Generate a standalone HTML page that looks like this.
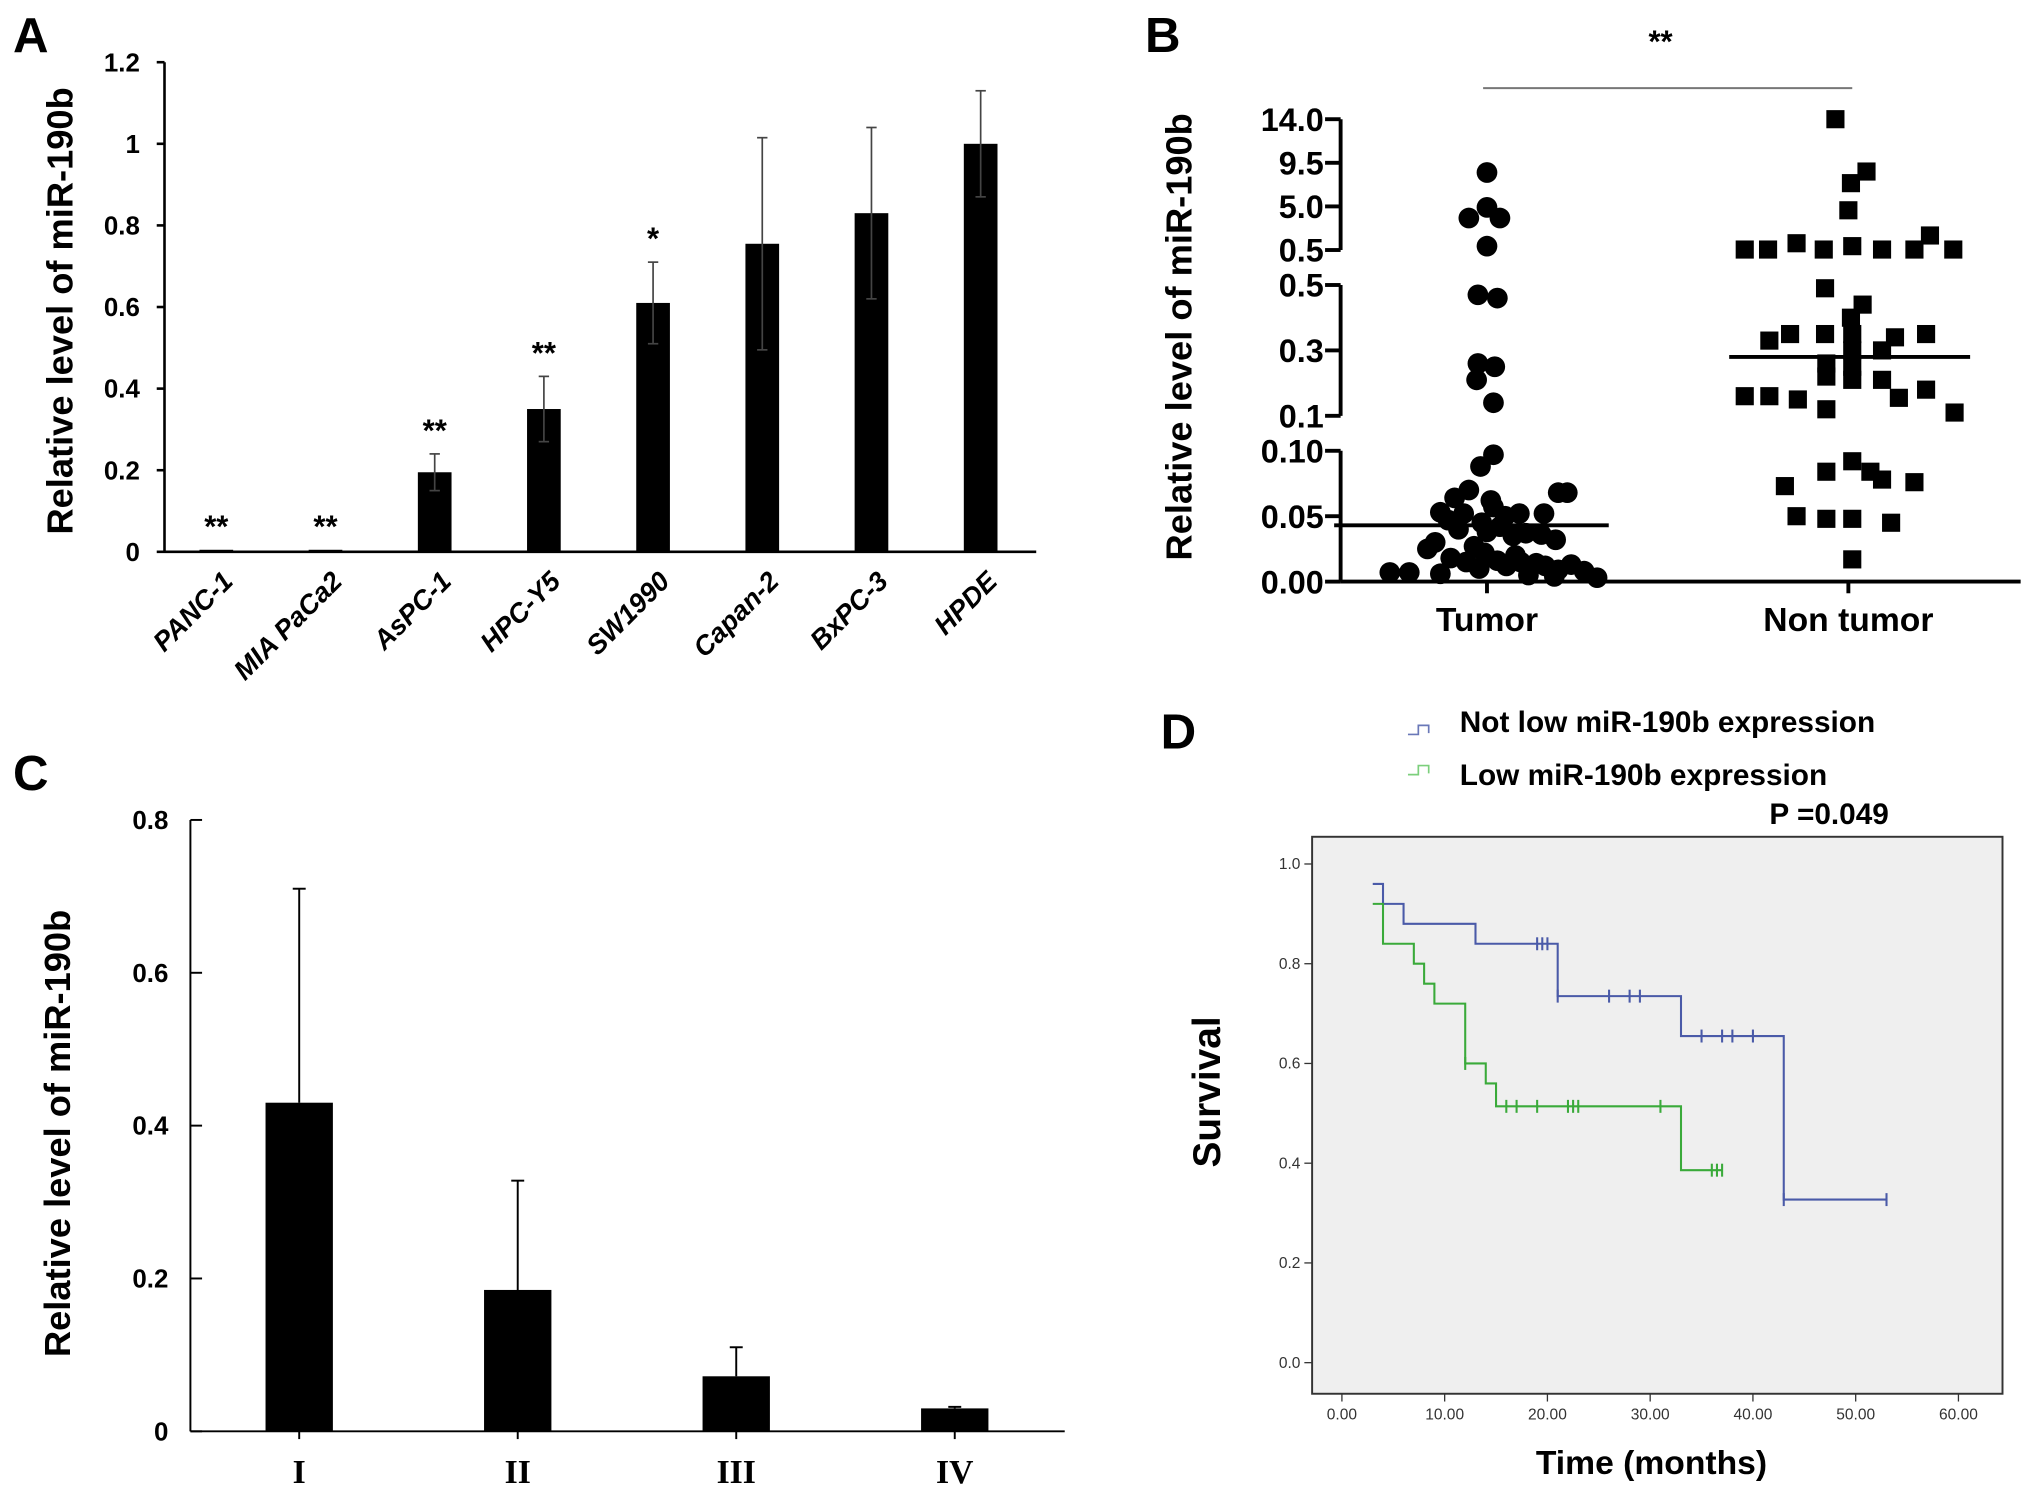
<!DOCTYPE html>
<html><head><meta charset="utf-8"><style>
html,body{margin:0;padding:0;background:#fff}
svg{display:block}
text{font-family:"Liberation Sans",Arial,sans-serif}
</style></head><body>
<svg id="fig" width="2031" height="1500" viewBox="0 0 1568 1158" xmlns="http://www.w3.org/2000/svg">
<g id="pA"></g>
<g id="pB"></g>
<g id="pC"></g>
<g id="pD"></g>
</svg>
<script>
// ---- Panel A data ----
const aCats=["PANC-1","MIA PaCa2","AsPC-1","HPC-Y5","SW1990","Capan-2","BxPC-3","HPDE"];
const aVals=[0.005,0.005,0.195,0.35,0.61,0.755,0.83,1.0];
const aErr=[0,0,0.045,0.08,0.1,0.26,0.21,0.13];
const aStars=["**","**","**","**","*","","",""];
const aTicks=[0,0.2,0.4,0.6,0.8,1,1.2];
// ---- Panel B data ----
const bGroups=["Tumor","Non tumor"];
const bTumorVals=[8.5,4.9,3.8,3.8,0.9,0.47,0.46,0.26,0.25,0.21,0.14,0.097,0.088,0.07,0.068,0.068,0.064,0.062,0.057,0.053,0.052,0.052,0.052,0.05,0.047,0.045,0.042,0.04,0.038,0.037,0.036,0.035,0.032,0.03,0.027,0.025,0.022,0.02,0.018,0.016,0.015,0.015,0.014,0.013,0.012,0.012,0.01,0.009,0.008,0.007,0.007,0.006,0.005,0.004,0.003];
const bTumorJit=[0,0,-14,10,0,-7,8,-7,6,-8,5,5,-5,-14,55,62,-25,3,5,-36,-18,25,44,14,-30,-4,10,-22,0,30,42,20,53,-40,-10,-46,-2,22,-28,8,-16,26,38,65,45,15,-6,55,75,-60,-75,-36,32,52,85];
const bNonVals=[14,8.6,7.4,4.6,0.55,0.55,1.2,0.55,0.9,0.55,0.55,2.0,0.55,0.49,0.44,0.40,0.35,0.35,0.35,0.33,0.34,0.35,0.30,0.30,0.26,0.22,0.25,0.16,0.16,0.15,0.12,0.21,0.21,0.155,0.18,0.11,0.092,0.084,0.084,0.078,0.073,0.076,0.05,0.048,0.048,0.045,0.017];
const bNonJit=[-10,14,2,0,-80,-62,-40,-19,3,26,51,63,81,-18,11,2,-45,-18,3,-61,36,60,3,26,-17,-17,3,-80,-61,-39,-17,3,26,39,60,82,3,-17,17,26,-49,51,-40,-17,3,33,3];
const bMeans=[0.043,0.28];
const bTickVals=[0,0.05,0.10,0.1,0.3,0.5,0.5,5.0,9.5,14.0];
const bTickSeg=[0,0,0,1,1,1,2,2,2,2];
const bTickLabels=["0.00","0.05","0.10","0.1","0.3","0.5","0.5","5.0","9.5","14.0"];
// ---- Panel C data ----
const cCats=["I","II","III","IV"];
const cVals=[0.43,0.185,0.072,0.03];
const cErr=[0.28,0.143,0.038,0.002];
const cTicks=[0,0.2,0.4,0.6,0.8];
// ---- Panel D data ----
const dBlueT=[3,4,6,13,21,33,43,53];
const dBlueS=[0.96,0.92,0.88,0.84,0.735,0.655,0.327,0.327];
const dBlueCens=[19,19.5,20,21,26,28,29,35,37,38,40,43,53];
const dGreenT=[3,4,7,8,9,12,14,15,33,37];
const dGreenS=[0.92,0.84,0.80,0.76,0.72,0.60,0.56,0.514,0.386,0.386];
const dGreenCens=[12,16,17,19,22,22.5,23,31,36,36.5,37];
const dXTicks=[0,10,20,30,40,50,60];
const dYTicks=[0,0.2,0.4,0.6,0.8,1.0];

const NS="http://www.w3.org/2000/svg";
function mk(p,tag,at,txt){const e=document.createElementNS(NS,tag);for(const k in at)e.setAttribute(k,at[k]);if(txt!==undefined)e.textContent=txt;p.appendChild(e);return e;}

// ===== Panel A =====
(function(){
const g=document.getElementById('pA');
const y=v=>426-v/1.2*378, x=i=>167+i*84.3;
let t=mk(g,'text',{x:10,y:40,'font-size':38,'font-weight':'bold'},'A');

let ax=mk(g,'line',{x1:127,y1:48,x2:127,y2:426,stroke:'#000','stroke-width':2});

ax=mk(g,'line',{x1:127,y1:426,x2:800,y2:426,stroke:'#000','stroke-width':2});

aTicks.forEach(v=>{mk(g,'line',{x1:121,x2:127,y1:y(v),y2:y(v),stroke:'#000','stroke-width':2});
 const l=mk(g,'text',{x:108,y:y(v)+7,'font-size':20,'font-weight':'bold','text-anchor':'end'},String(v));
 });
aVals.forEach((v,i)=>{
 const b=mk(g,'rect',{x:x(i)-13,y:y(v),width:26,height:426-y(v),fill:'#000'});
 
 if(aErr[i]>0){mk(g,'line',{x1:x(i),x2:x(i),y1:y(v+aErr[i]),y2:y(v-aErr[i]),stroke:'#444','stroke-width':1.3});
  mk(g,'line',{x1:x(i)-4,x2:x(i)+4,y1:y(v+aErr[i]),y2:y(v+aErr[i]),stroke:'#444','stroke-width':1.3});
  mk(g,'line',{x1:x(i)-4,x2:x(i)+4,y1:y(v-aErr[i]),y2:y(v-aErr[i]),stroke:'#444','stroke-width':1.3});}
 if(aStars[i]){const s=mk(g,'text',{x:x(i),y:(aErr[i]?y(v+aErr[i]):y(v))-10,'font-size':24,'font-weight':'bold','text-anchor':'middle'},aStars[i]);
  }
 const cl=mk(g,'text',{x:0,y:0,'font-size':21,'font-weight':'bold','font-style':'italic','text-anchor':'end',transform:`translate(${x(i)+14},${450}) rotate(-45)`},aCats[i]);
 
});
const yt=mk(g,'text',{x:0,y:0,'font-size':28,'font-weight':'bold','text-anchor':'middle',transform:'translate(56,240) rotate(-90)'},'Relative level of miR-190b');

})();

// ===== Panel B =====
(function(){
const g=document.getElementById('pB');
function ys(v,seg){ if(seg===2) return 193-(v-0.5)/13.5*101; if(seg===1) return 321-(v-0.1)/0.4*101; return 449-v/0.1*101;}
function y(v){ return ys(v, v<=0.1?0:(v<=0.5?1:2)); }
let t=mk(g,'text',{x:884,y:40,'font-size':38,'font-weight':'bold'},'B');

[[92,193],[220,321],[348,449]].forEach(s=>{const a=mk(g,'line',{x1:1035,x2:1035,y1:s[0],y2:s[1],stroke:'#000','stroke-width':3});
 });
const xa=mk(g,'line',{x1:1035,x2:1560,y1:449,y2:449,stroke:'#000','stroke-width':3});

bTickVals.forEach((v,i)=>{const yy=ys(v,bTickSeg[i]);
 mk(g,'line',{x1:1023,x2:1035,y1:yy,y2:yy,stroke:'#000','stroke-width':3});
 const l=mk(g,'text',{x:1022,y:yy+9,'font-size':25,'font-weight':'bold','text-anchor':'end'},bTickLabels[i]);
 });
const gx=[1148,1427];
bGroups.forEach((n,i)=>{mk(g,'line',{x1:gx[i],x2:gx[i],y1:449,y2:458,stroke:'#000','stroke-width':3});
 const l=mk(g,'text',{x:gx[i],y:487,'font-size':26,'font-weight':'bold','text-anchor':'middle'},n);
 });
bTumorVals.forEach((v,i)=>{const c=mk(g,'circle',{cx:gx[0]+bTumorJit[i],cy:y(v),r:8,fill:'#000'});
 });
bNonVals.forEach((v,i)=>{const c=mk(g,'rect',{x:gx[1]+bNonJit[i]-7,y:y(v)-7,width:14,height:14,fill:'#000'});
 });
const mx=[[1030,1242],[1335,1521]];
bMeans.forEach((v,i)=>{const m=mk(g,'line',{x1:mx[i][0],x2:mx[i][1],y1:y(v),y2:y(v),stroke:'#000','stroke-width':3});
 });
const sl=mk(g,'line',{x1:1145,x2:1430,y1:68,y2:68,stroke:'#777','stroke-width':1.5});

const st=mk(g,'text',{x:1282,y:40,'font-size':24,'font-weight':'bold','text-anchor':'middle'},'**');

const yt=mk(g,'text',{x:0,y:0,'font-size':28,'font-weight':'bold','text-anchor':'middle',transform:'translate(920,260) rotate(-90)'},'Relative level of miR-190b');

})();

// ===== Panel C =====
(function(){
const g=document.getElementById('pC');
const y=v=>1105-v/0.8*472, x=i=>231+i*168.7;
let t=mk(g,'text',{x:10,y:610,'font-size':38,'font-weight':'bold'},'C');

let a=mk(g,'line',{x1:147,x2:147,y1:633,y2:1105,stroke:'#000','stroke-width':1.5});

a=mk(g,'line',{x1:147,x2:822,y1:1105,y2:1105,stroke:'#000','stroke-width':1.5});

cTicks.forEach(v=>{mk(g,'line',{x1:147,x2:156,y1:y(v),y2:y(v),stroke:'#000','stroke-width':1.5});
 const l=mk(g,'text',{x:130,y:y(v)+7,'font-size':20,'font-weight':'bold','text-anchor':'end'},String(v));
 });
cVals.forEach((v,i)=>{
 const e=v+cErr[i];
 mk(g,'line',{x1:x(i),x2:x(i),y1:y(e),y2:y(v),stroke:'#000','stroke-width':1.5});
 mk(g,'line',{x1:x(i)-5,x2:x(i)+5,y1:y(e),y2:y(e),stroke:'#000','stroke-width':1.5});
 const b=mk(g,'rect',{x:x(i)-26,y:y(v),width:52,height:1105-y(v),fill:'#000'});
 
 mk(g,'line',{x1:x(i),x2:x(i),y1:1105,y2:1111,stroke:'#000','stroke-width':1.5});
 const l=mk(g,'text',{x:x(i),y:1145,'font-size':26,'font-weight':'bold','text-anchor':'middle',style:'font-family:"Liberation Serif",serif'},cCats[i]);
 });
const yt=mk(g,'text',{x:0,y:0,'font-size':28,'font-weight':'bold','text-anchor':'middle',transform:'translate(54,875) rotate(-90)'},'Relative level of miR-190b');

})();

// ===== Panel D =====
(function(){
const g=document.getElementById('pD');
const x=m=>1036+m*7.933, y=s=>1052-s*385;
let t=mk(g,'text',{x:896,y:578,'font-size':38,'font-weight':'bold'},'D');

const box=mk(g,'rect',{x:1013,y:646,width:533,height:430,fill:'#efefef',stroke:'#333','stroke-width':1.5});

dYTicks.forEach(v=>{mk(g,'line',{x1:1007,x2:1013,y1:y(v),y2:y(v),stroke:'#333'});
 const l=mk(g,'text',{x:1004,y:y(v)+4,'font-size':12,fill:'#333','text-anchor':'end'},v.toFixed(1));
 });
dXTicks.forEach(v=>{mk(g,'line',{x1:x(v),x2:x(v),y1:1076,y2:1082,stroke:'#333'});
 const l=mk(g,'text',{x:x(v),y:1096,'font-size':12,fill:'#333','text-anchor':'middle'},v.toFixed(2));
 });
function km(T,S,C,col,name){
 let d=`M${x(T[0])},${y(S[0])}`;
 for(let i=1;i<T.length;i++){d+=` H${x(T[i])} V${y(S[i])}`;}
 const p=mk(g,'path',{d:d,fill:'none',stroke:col,'stroke-width':1.6});
 
 C.forEach(c=>{let s=S[0];for(let i=0;i<T.length;i++){if(T[i]<=c)s=S[i];}
  const m=mk(g,'line',{x1:x(c),x2:x(c),y1:y(s)-5,y2:y(s)+5,stroke:col,'stroke-width':1.6});
  });
}
km(dBlueT,dBlueS,dBlueCens,'#4a5aa8','d-not-low');
km(dGreenT,dGreenS,dGreenCens,'#3aaa3a','d-low');
let s=mk(g,'path',{d:'M1087,567 H1095 V560 H1103 V566',fill:'none',stroke:'#6a78b8','stroke-width':1.3});

let lt=mk(g,'text',{x:1127,y:565,'font-size':23,'font-weight':'bold'},'Not low miR-190b  expression');

s=mk(g,'path',{d:'M1087,598 H1095 V591 H1103 V597',fill:'none',stroke:'#7ccf7c','stroke-width':1.3});

lt=mk(g,'text',{x:1127,y:606,'font-size':23,'font-weight':'bold'},'Low  miR-190b  expression');

lt=mk(g,'text',{x:1366,y:636,'font-size':23,'font-weight':'bold'},'P =0.049');

const xt=mk(g,'text',{x:1275,y:1138,'font-size':26,'font-weight':'bold','text-anchor':'middle'},'Time (months)');

const yt=mk(g,'text',{x:0,y:0,'font-size':30,'font-weight':'bold','text-anchor':'middle',transform:'translate(942,843) rotate(-90)'},'Survival');

})();
</script>
</body></html>
